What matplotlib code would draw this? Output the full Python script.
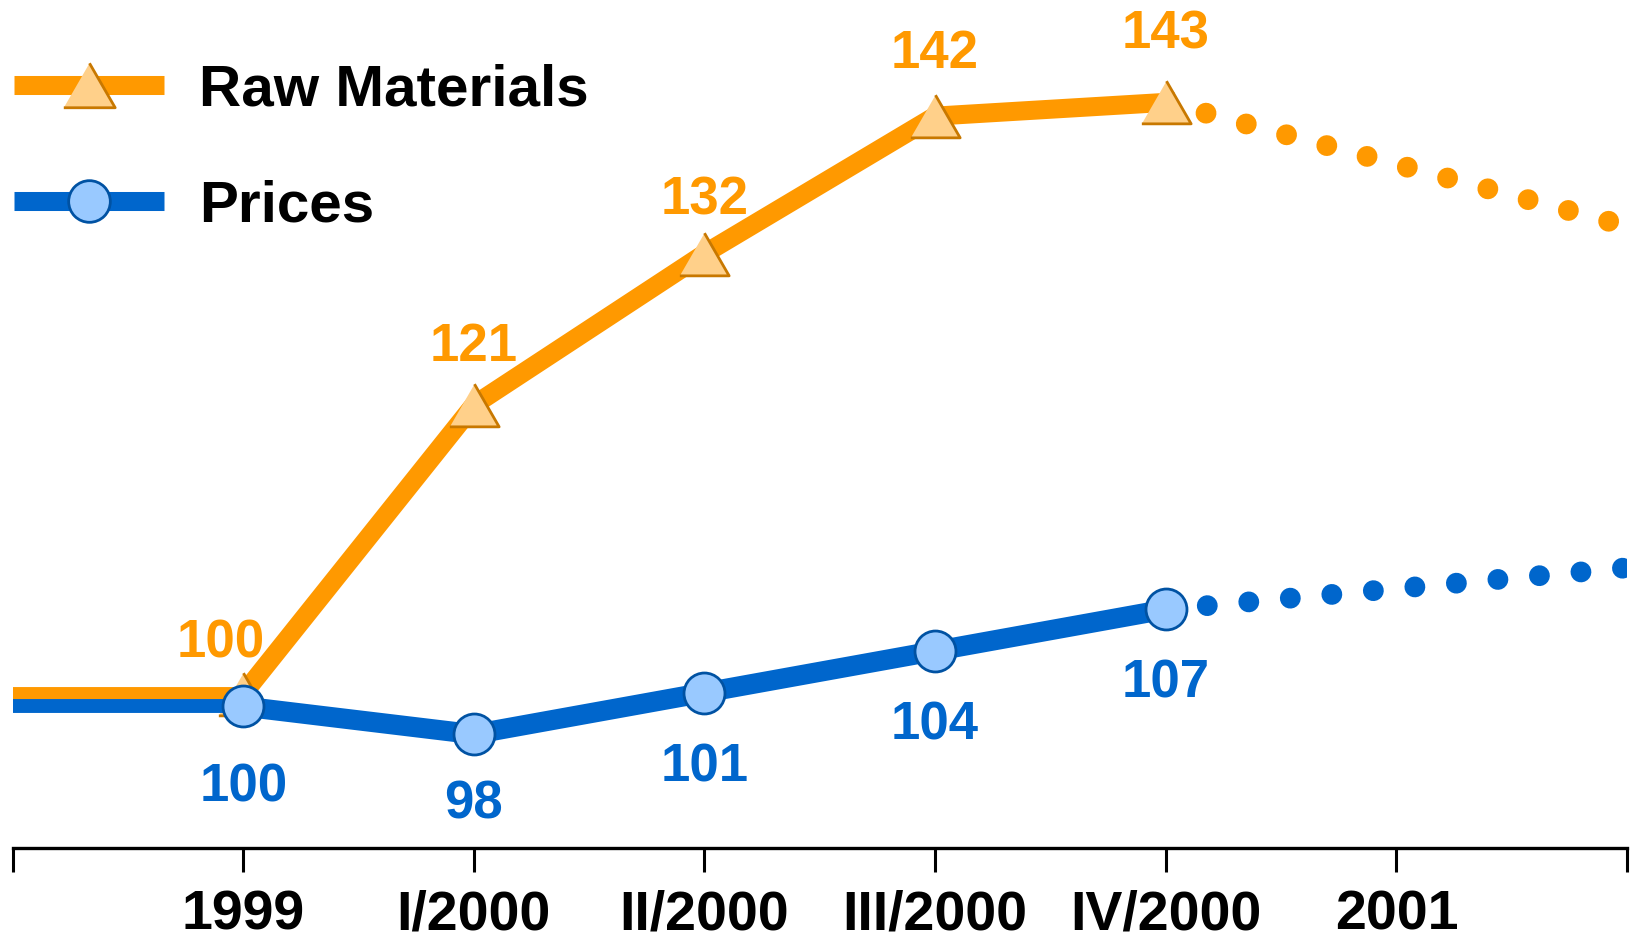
import numpy as np
import matplotlib.pyplot as plt
from matplotlib.lines import Line2D

# quarterly index values (1999 = 100)
periods = ['1999', 'I/2000', 'II/2000', 'III/2000', 'IV/2000', '2001']
raw_materials = [100, 121, 132, 142, 143]
prices = [100, 98, 101, 104, 107]
# outlook values at the right edge of the chart
raw_outlook = 134
prices_outlook = 110

# label nudges in points (dx, dy)
raw_label_off = [(-16, 36), (0, 41.5), (0, 38.5), (0, 44.5), (0, 49)]
price_label_off = [(0, -58.5), (0, -50.5), (0, -54), (0, -53.5), (0, -53.5)]

ORANGE = '#FF9900'
ORANGE_FILL = '#FFD08A'
ORANGE_EDGE = '#C87800'
BLUE = '#0066CC'
BLUE_FILL = '#99C9FF'
BLUE_EDGE = '#0052A3'

plt.rcParams['font.family'] = ['Liberation Sans', 'DejaVu Sans']
plt.rcParams['font.weight'] = 'bold'

# equilateral triangle marker
tri = [(-1, -0.866), (1, -0.866), (0, 0.866)]

fig = plt.figure(figsize=(16.46, 9.46), dpi=100)
ax = fig.add_axes([0.00766, 0.1041, 0.9808, 0.8959])
ax2 = ax.twinx()

x = np.arange(1, len(raw_materials) + 1)
x_end = len(periods) + 1

# raw materials (lower layer)
ax.plot([0, x[0]], [raw_materials[0], raw_materials[0]], color=ORANGE, lw=10, solid_capstyle='butt')
ax.plot(x, raw_materials, color=ORANGE, lw=13.7, solid_joinstyle='round')
ax.plot([x[-1], x_end], [raw_materials[-1], raw_outlook], color=ORANGE, lw=15,
        linestyle=(0, (0.001, 2.0)), dash_capstyle='round')
ax.plot(x, raw_materials, linestyle='none', marker=tri, ms=35.5,
        mfc=ORANGE_FILL, mec=ORANGE_EDGE, mew=2)
for xi, v, (dx, dy) in zip(x, raw_materials, raw_label_off):
    ax.annotate(str(v), (xi, v), xytext=(dx, dy), textcoords='offset points',
                ha='center', va='center', fontsize=38, fontweight='bold', color=ORANGE)

# prices (upper layer)
ax2.plot([0, x[0]], [prices[0], prices[0]], color=BLUE, lw=10, solid_capstyle='butt')
ax2.plot(x, prices, color=BLUE, lw=14.5, solid_joinstyle='round')
ax2.plot([x[-1], x_end], [prices[-1], prices_outlook], color=BLUE, lw=15,
         linestyle=(0, (0.001, 2.0)), dash_capstyle='round')
ax2.plot(x, prices, linestyle='none', marker='o', ms=29.5,
         mfc=BLUE_FILL, mec=BLUE_EDGE, mew=2)
for xi, v, (dx, dy) in zip(x, prices, price_label_off):
    ax2.annotate(str(v), (xi, v), xytext=(dx, dy), textcoords='offset points',
                 ha='center', va='center', fontsize=38, fontweight='bold', color=BLUE)

ax.set_xlim(0, x_end)
ax.set_ylim(88.84, 150.44)
ax2.set_ylim(89.83, 150.94)

ax.set_xticks(range(0, x_end + 1))
ax.set_xticklabels([''] + periods + [''])
ax.tick_params(axis='x', direction='out', length=17, width=2.2, pad=13,
               labelsize=40, colors='black')
ax.set_yticks([])
ax2.set_yticks([])
for name in ['left', 'right', 'top']:
    ax.spines[name].set_visible(False)
for sp in ax2.spines.values():
    sp.set_visible(False)
ax.spines['bottom'].set_linewidth(2.4)

handles = [
    Line2D([], [], color=ORANGE, lw=13.7, solid_capstyle='butt', marker=tri, ms=37,
           mfc=ORANGE_FILL, mec=ORANGE_EDGE, mew=2),
    Line2D([], [], color=BLUE, lw=13.7, solid_capstyle='butt', marker='o', ms=30,
           mfc=BLUE_FILL, mec=BLUE_EDGE, mew=2),
]
fig.legend(handles, ['Raw Materials', 'Prices'], loc='upper left',
           bbox_to_anchor=(0, 0.948), frameon=False, fontsize=42,
           handlelength=2.58, handletextpad=0.6, borderpad=0.237,
           borderaxespad=0, labelspacing=1.07, numpoints=1)

fig.savefig('out.png', dpi=100)
